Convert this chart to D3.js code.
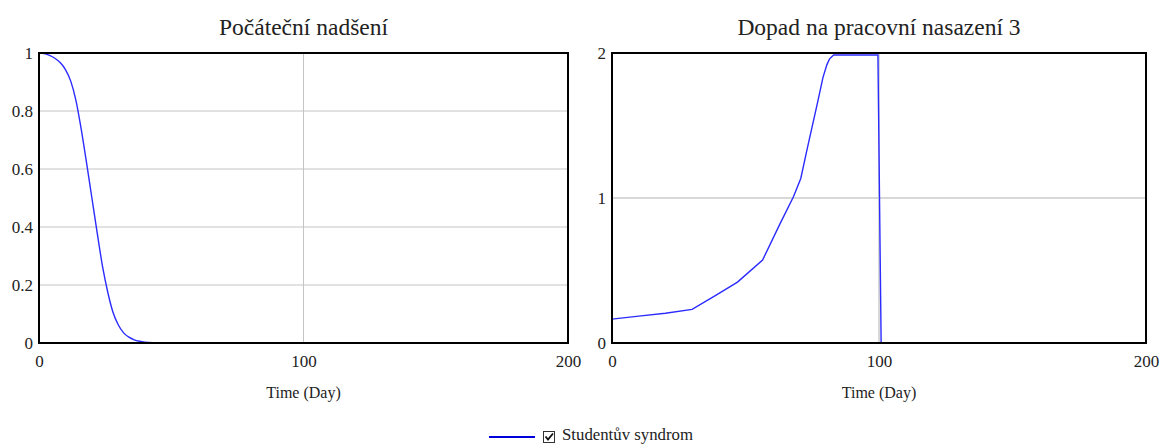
<!DOCTYPE html>
<html>
<head>
<meta charset="utf-8">
<script src="https://cdn.jsdelivr.net/npm/d3@7"></script>
<style>
  body { margin: 0; background: #fff; }
  svg text { font-family: "Liberation Serif", "Times New Roman", Times, "DejaVu Serif", serif !important; fill: #222; }
</style>
</head>
<body>
<div id="main"></div>
<script>
// Počáteční nadšení
const enthusiasmDays = [0, 2, 4, 6, 8, 10, 12, 14, 16, 18, 20, 22, 24, 26, 28, 30, 32, 34, 36, 38, 40, 44, 48, 200];
const enthusiasmValues = [1.0, 0.998, 0.992, 0.982, 0.967, 0.943, 0.903, 0.835, 0.735, 0.62, 0.5, 0.38, 0.265, 0.175, 0.105, 0.062, 0.035, 0.02, 0.011, 0.006, 0.003, 0.001, 0, 0];

// Dopad na pracovní nasazení 3
const impactDays = [0, 10, 20, 30, 39, 47, 56.4, 63, 68, 70.7, 73, 77, 79, 80.5, 81.5, 83, 99.6, 100.8, 200];
const impactValues = [0.165, 0.185, 0.205, 0.232, 0.33, 0.42, 0.572, 0.825, 1.01, 1.135, 1.33, 1.66, 1.83, 1.92, 1.96, 1.986, 1.986, 0, 0];

const xTicks = [0, 100, 200];
const leftYTicks = [0, 0.2, 0.4, 0.6, 0.8, 1];
const rightYTicks = [0, 1, 2];
const seriesName = 'Studentův syndrom';

const width = 1162;
const height = 444;
const svg = d3.select('#main').append('svg')
    .attr('width', width)
    .attr('height', height);

function drawPanel(opts) {
    const x = d3.scaleLinear().domain([0, 200]).range([opts.left, opts.right]);
    const y = d3.scaleLinear().domain(opts.yDomain).range([343, 53]);
    const g = svg.append('g');

    // grid
    g.selectAll('line.hgrid')
        .data(opts.yTicks.filter(d => d > opts.yDomain[0] && d < opts.yDomain[1]))
        .enter().append('line')
        .attr('x1', opts.left).attr('x2', opts.right)
        .attr('y1', d => y(d)).attr('y2', d => y(d))
        .attr('stroke', opts.gridColor).attr('stroke-width', opts.gridWidth);
    g.append('line')
        .attr('x1', x(100)).attr('x2', x(100))
        .attr('y1', y(opts.yDomain[0])).attr('y2', y(opts.yDomain[1]))
        .attr('stroke', opts.gridColor).attr('stroke-width', opts.gridWidth);

    // line
    const pts = opts.days.map((d, i) => ({ day: d, value: opts.values[i] }));
    const lineGenerator = d3.line()
        .x(d => x(d.day))
        .y(d => y(d.value))
        .curve(opts.curve);
    g.append('path')
        .datum(pts)
        .attr('fill', 'none')
        .attr('stroke', '#2b2bff')
        .attr('stroke-width', 1.4)
        .attr('d', lineGenerator);

    // frame
    g.append('rect')
        .attr('x', opts.left).attr('y', 53)
        .attr('width', opts.right - opts.left).attr('height', 290)
        .attr('fill', 'none').attr('stroke', '#000').attr('stroke-width', 2);

    // axes
    const xAxis = g.append('g')
        .attr('transform', 'translate(0,343)')
        .call(d3.axisBottom(x).tickValues(xTicks).tickSize(0).tickPadding(12).tickFormat(d3.format('d')));
    xAxis.select('.domain').remove();
    xAxis.attr('font-family', null);
    xAxis.selectAll('text').style('font-size', '17px').attr('fill', '#333');

    const yAxis = g.append('g')
        .attr('transform', `translate(${opts.left},0)`)
        .call(d3.axisLeft(y).tickValues(opts.yTicks).tickSize(0).tickPadding(6).tickFormat(d => String(d)));
    yAxis.select('.domain').remove();
    yAxis.attr('font-family', null);
    yAxis.selectAll('text').style('font-size', '17px').attr('fill', '#333');

    g.append('text')
        .attr('x', (opts.left + opts.right) / 2).attr('y', 398)
        .attr('text-anchor', 'middle')
        .style('font-size', '16px')
        .text('Time (Day)');

    g.append('text')
        .attr('x', (opts.left + opts.right) / 2).attr('y', 35)
        .attr('text-anchor', 'middle')
        .style('font-size', '23.5px')
        .text(opts.title);
}

drawPanel({
    left: 39, right: 568, yDomain: [0, 1], yTicks: leftYTicks,
    days: enthusiasmDays, values: enthusiasmValues,
    title: 'Počáteční nadšení', gridColor: '#c4c4c4', gridWidth: 1,
    curve: d3.curveMonotoneX
});
drawPanel({
    left: 612, right: 1146, yDomain: [0, 2], yTicks: rightYTicks,
    days: impactDays, values: impactValues,
    title: 'Dopad na pracovní nasazení 3', gridColor: '#d8d8d8', gridWidth: 2,
    curve: d3.curveLinear
});

// legend
const legend = svg.append('g');
legend.append('line')
    .attr('x1', 489).attr('x2', 535).attr('y1', 437).attr('y2', 437)
    .attr('stroke', '#0000dd').attr('stroke-width', 2);
legend.append('rect')
    .attr('x', 543.5).attr('y', 431.5).attr('width', 11).attr('height', 11)
    .attr('fill', '#fff').attr('stroke', '#333').attr('stroke-width', 1);
legend.append('path')
    .attr('d', 'M545.5,436.5 L548,439.5 L553,433.5')
    .attr('fill', 'none').attr('stroke', '#111').attr('stroke-width', 1.8);
legend.append('text')
    .attr('x', 562).attr('y', 440)
    .style('font-size', '16.8px')
    .text(seriesName);
</script>
</body>
</html>
